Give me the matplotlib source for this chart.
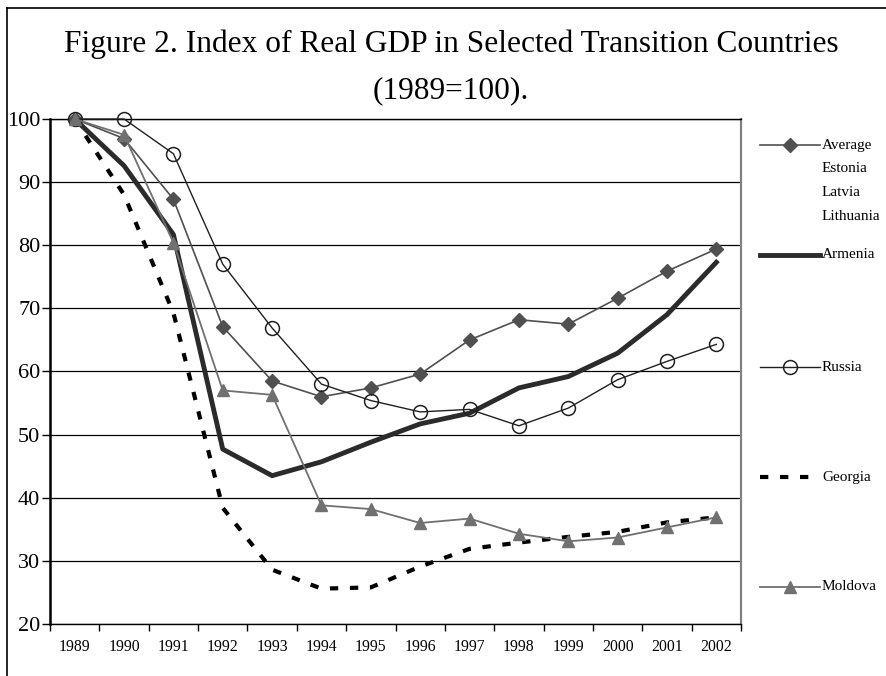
import matplotlib
matplotlib.use("Agg")
import matplotlib.pyplot as plt
from matplotlib.lines import Line2D

years = ["1989", "1990", "1991", "1992", "1993", "1994", "1995", "1996",
         "1997", "1998", "1999", "2000", "2001", "2002"]
baltic_avg = [100, 96.9, 87.3, 67.1, 58.5, 56.0, 57.4, 59.6, 65.0, 68.2, 67.5, 71.6, 75.9, 79.4]
armenia = [100, 92.6, 81.7, 47.7, 43.5, 45.7, 48.8, 51.7, 53.4, 57.4, 59.2, 62.9, 69.0, 77.3]
russia = [100, 100, 94.5, 77.0, 66.9, 58.0, 55.4, 53.6, 54.0, 51.4, 54.2, 58.7, 61.6, 64.3]
georgia = [100, 88.0, 69.3, 38.4, 28.6, 25.6, 25.8, 29.1, 31.9, 32.9, 33.8, 34.6, 36.1, 36.9]
moldova = [100, 97.5, 80.4, 57.0, 56.3, 38.8, 38.2, 36.0, 36.7, 34.3, 33.1, 33.7, 35.3, 36.9]

title_lines = ["Figure 2. Index of Real GDP in Selected Transition Countries", "(1989=100)."]
labels = ["Average\nEstonia\nLatvia\nLithuania", "Armenia", "Russia", "Georgia", "Moldova"]

plt.rcParams['font.family'] = ['Liberation Serif', 'DejaVu Serif']

W, H = 886, 676
fig = plt.figure(figsize=(W / 100, H / 100), dpi=100)

def fx(px):
    return px / W

def fy(py):
    return 1 - py / H

ax = fig.add_axes([fx(50), fy(624), fx(741) - fx(50), fy(119) - fy(624)])

x = list(range(len(years)))
styles = [
    dict(color="#505050", lw=1.2, marker="D", ms=7, mfc="#505050", mec="#505050"),
    dict(color="#2b2b2b", lw=3.5, marker=None),
    dict(color="#202020", lw=1.0, marker="o", ms=10, mfc="none", mec="#202020", mew=1.1),
    dict(color="black", lw=3.0, linestyle=(0, (2.0, 2.8)), marker=None),
    dict(color="#707070", lw=1.3, marker="^", ms=9, mfc="#707070", mec="#707070"),
]
series = [baltic_avg, armenia, russia, georgia, moldova]
for s, st in zip(series, styles):
    ax.plot(x, s, zorder=3, clip_on=False, **st)

ax.set_xlim(-0.5, len(years) - 0.5)
ax.set_ylim(20, 100)
ax.set_yticks(range(20, 101, 10))
ax.set_yticklabels([str(v) for v in range(20, 101, 10)], fontsize=16)
ax.set_xticks(x)
ax.set_xticklabels(years, fontsize=11.3)
ax.tick_params(axis="x", which="major", length=0, pad=11)
ax.set_xticks([i - 0.5 for i in range(len(years) + 1)], minor=True)
ax.tick_params(axis="x", which="minor", length=5, width=1, direction="out", color="black")
ax.tick_params(axis="y", length=6, width=1, direction="out", pad=1)
ax.yaxis.grid(True, color="black", lw=0.9)
ax.set_axisbelow(True)
for side in ["left", "bottom", "top"]:
    ax.spines[side].set_color("black")
ax.spines["left"].set_linewidth(1.8)
ax.spines["bottom"].set_linewidth(1.0)
ax.spines["top"].set_linewidth(1.0)
ax.spines["right"].set_color("#808080")
ax.spines["right"].set_linewidth(1.6)

fig.text(fx(451), fy(52), title_lines[0], ha="center", va="baseline", fontsize=22.6)
fig.text(fx(451), fy(98), title_lines[1], ha="center", va="baseline", fontsize=22.6)

# figure frame (top and left edges visible)
fig.add_artist(Line2D([fx(7), 1], [fy(8), fy(8)], color="black", lw=1.2))
fig.add_artist(Line2D([fx(7), fx(7)], [fy(8), 0], color="black", lw=1.2))

# manual legend
leg_y = [145, 255, 367, 477, 587]
for lab, st, py in zip(labels, styles, leg_y):
    st2 = dict(st)
    mk = st2.pop("marker", None)
    if mk is None:
        ln = Line2D([fx(760), fx(820)], [fy(py), fy(py)], **st2)
    else:
        ln = Line2D([fx(760), fx(790), fx(820)], [fy(py)] * 3, marker=mk, markevery=[1], **st2)
    fig.add_artist(ln)
    parts = lab.split("\n")
    for k, part in enumerate(parts):
        fig.text(fx(822), fy(py + 24 * k), part, ha="left", va="center", fontsize=11)

fig.savefig("out.png", dpi=100)
